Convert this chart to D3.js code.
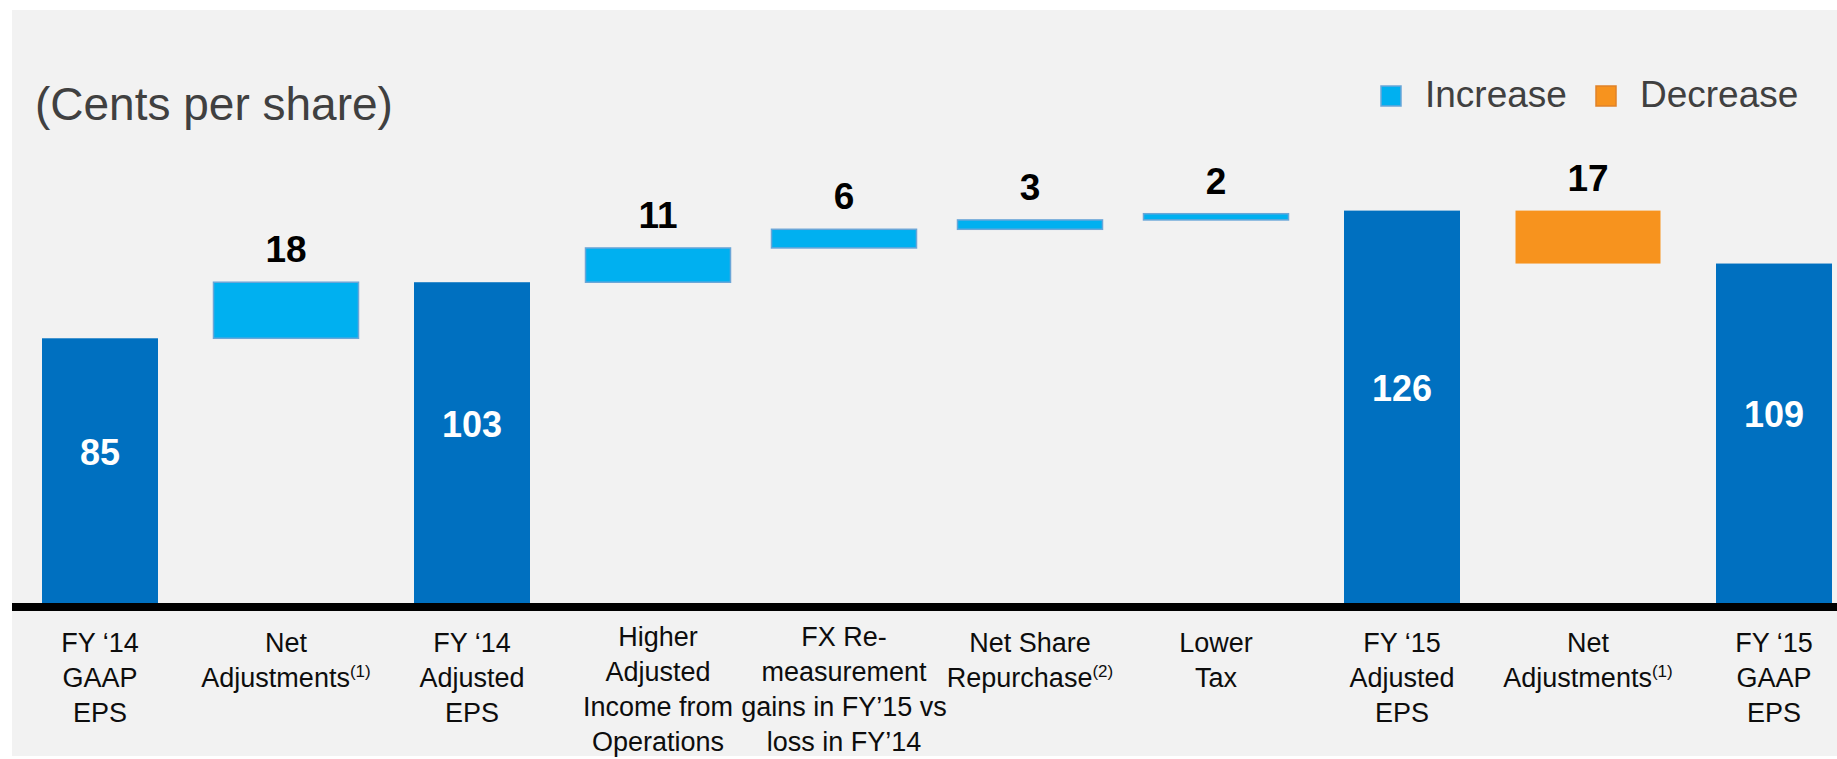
<!DOCTYPE html>
<html>
<head>
<meta charset="utf-8">
<script src="https://cdn.jsdelivr.net/npm/d3@7"></script>
<style>
  html, body { margin: 0; padding: 0; background: #ffffff; }
  svg { display: block; font-family: "Liberation Sans", Arial, sans-serif; }
</style>
</head>
<body>
<svg id="chart"></svg>
<script>
// chart data
const categories = ["FY14 GAAP", "Net Adj 14", "FY14 Adjusted", "Higher Income", "FX Remeasurement",
                    "Net Share Repurchase", "Lower Tax", "FY15 Adjusted", "Net Adj 15", "FY15 GAAP"];
const values = [85, 18, 103, 11, 6, 3, 2, 126, -17, 109];
const kinds = ["total", "increase", "total", "increase", "increase", "increase", "increase", "total", "decrease", "total"];
// tick labels, one entry per line, "^" starts a superscript
const tickLabels = [
    ["FY ‘14", "GAAP", "EPS"],
    ["Net", "Adjustments^(1)"],
    ["FY ‘14", "Adjusted", "EPS"],
    ["Higher", "Adjusted", "Income from", "Operations"],
    ["FX Re-", "measurement", "gains in FY’15 vs", "loss in FY’14"],
    ["Net Share", "Repurchase^(2)"],
    ["Lower", "Tax"],
    ["FY ‘15", "Adjusted", "EPS"],
    ["Net", "Adjustments^(1)"],
    ["FY ‘15", "GAAP", "EPS"]
];
const legendItems = ["Increase", "Decrease"];

const width = 1837, height = 759;
const colors = { total: "#0070c0", increase: "#00b0f0", decrease: "#f7931e" };
const strokes = { total: "none", increase: "#6aa6d8", decrease: "#e0822a" };

const svg = d3.select("#chart").attr("width", width).attr("height", height);

// grey panel
svg.append("rect")
    .attr("x", 12).attr("y", 10)
    .attr("width", width - 12).attr("height", 746)
    .attr("fill", "#f2f2f2");

// build waterfall steps
let running = 0;
const steps = values.map((v, i) => {
    let start, end;
    if (kinds[i] === "total") { start = 0; end = v; }
    else { start = running; end = running + v; }
    running = end;
    return { key: categories[i], kind: kinds[i], value: v, start, end, lines: tickLabels[i] };
});

const x = d3.scalePoint().domain(categories).range([100, 1774]);
const y = d3.scaleLinear().domain([0, 140]).range([603, 167]);

const barWidth = d => d.kind === "total" ? 116 : 145;

svg.selectAll(".bar")
    .data(steps)
    .join("rect")
    .attr("class", "bar")
    .attr("x", d => x(d.key) - barWidth(d) / 2)
    .attr("width", barWidth)
    .attr("y", d => y(Math.max(d.start, d.end)))
    .attr("height", d => Math.abs(y(d.start) - y(d.end)))
    .attr("fill", d => colors[d.kind])
    .attr("stroke", d => strokes[d.kind])
    .attr("stroke-width", d => d.kind === "increase" ? 1.5 : 0);

// value labels of the totals (inside bars)
svg.selectAll(".total-label")
    .data(steps.filter(d => d.kind === "total"))
    .join("text")
    .attr("class", "total-label")
    .attr("x", d => x(d.key))
    .attr("y", d => (y(d.end) + y(0)) / 2 - 6)
    .attr("text-anchor", "middle")
    .attr("font-size", 36)
    .attr("font-weight", "bold")
    .attr("fill", "#ffffff")
    .text(d => d.value);

// value labels of the changes (above bars)
svg.selectAll(".step-label")
    .data(steps.filter(d => d.kind !== "total"))
    .join("text")
    .attr("class", "step-label")
    .attr("x", d => x(d.key))
    .attr("y", d => y(Math.max(d.start, d.end)) - 20)
    .attr("text-anchor", "middle")
    .attr("font-size", 37)
    .attr("font-weight", "bold")
    .attr("fill", "#000000")
    .text(d => Math.abs(d.value));

// axis line
svg.append("line")
    .attr("x1", 12).attr("x2", width)
    .attr("y1", 607).attr("y2", 607)
    .attr("stroke", "#000000")
    .attr("stroke-width", 8);

// category labels
const tick = svg.selectAll(".tick-label")
    .data(steps)
    .join("text")
    .attr("class", "tick-label")
    .attr("text-anchor", "middle")
    .attr("font-size", 27)
    .attr("fill", "#0d0d0d")
    .attr("transform", d => `translate(${x(d.key)},${d.lines.length > 3 ? 646 : 652})`);

tick.each(function(d) {
    const t = d3.select(this);
    d.lines.forEach((line, i) => {
        const parts = line.split("^");
        t.append("tspan").attr("x", 0).attr("y", i * 35).text(parts[0]);
        if (parts[1]) {
            t.append("tspan").attr("font-size", 17).attr("dy", -10).text(parts[1]);
        }
    });
});

// title
svg.append("text")
    .attr("x", 35).attr("y", 120)
    .attr("font-size", 46)
    .attr("fill", "#404040")
    .text("(Cents per share)");

// legend
const legendX = [1381, 1596];
const legend = svg.selectAll(".legend")
    .data(legendItems)
    .join("g")
    .attr("class", "legend")
    .attr("transform", (d, i) => `translate(${legendX[i]},86)`);

legend.append("rect")
    .attr("width", 20).attr("height", 20)
    .attr("fill", (d, i) => i === 0 ? colors.increase : colors.decrease)
    .attr("stroke", (d, i) => i === 0 ? strokes.increase : strokes.decrease)
    .attr("stroke-width", 1.5);

legend.append("text")
    .attr("x", 44).attr("y", 21)
    .attr("font-size", 37)
    .attr("fill", "#404040")
    .text(d => d);
</script>
</body>
</html>
